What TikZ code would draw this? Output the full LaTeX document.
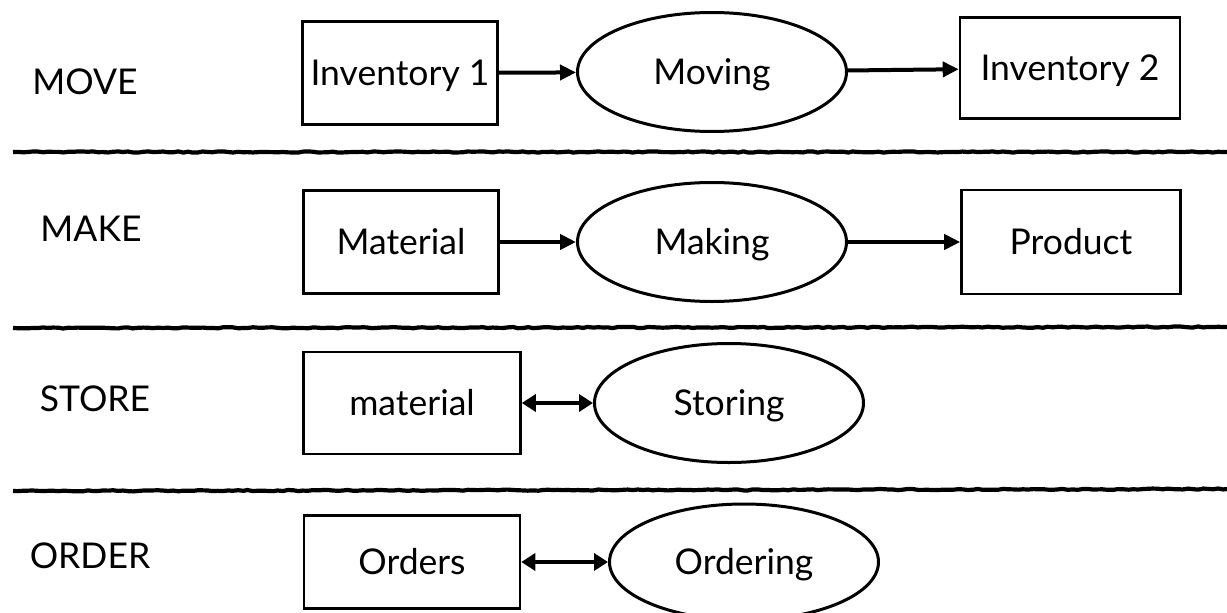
\documentclass[tikz,border=0pt]{standalone}
\usepackage{fontspec}
\setmainfont{Lato}
\usetikzlibrary{arrows.meta,shapes.geometric,decorations.pathmorphing}
\begin{document}
\begin{tikzpicture}[x=1pt,y=-1pt,
  every node/.style={font=\fontsize{35.5}{40}\selectfont, text height=25.5pt, text depth=0pt, inner sep=0pt},
  rowlabel/.style={},
  stockbox/.style={draw, line width=2.6pt, rectangle},
  activity/.style={draw, line width=3pt, ellipse, minimum width=269pt, minimum height=119pt},
  flow/.style={line width=4pt, -{Triangle[length=16pt,width=15pt]}},
  exchange/.style={line width=4pt, {Triangle[length=14pt,width=17pt]}-{Triangle[length=14pt,width=17pt]}},
  divider/.style={line width=4.2pt, decorate, decoration={random steps, segment length=5pt, amplitude=0.6pt}}]
\pgfmathsetseed{7}
\useasboundingbox (0,0) rectangle (1227,613);

% row labels
\node[rowlabel] (lmove)  at (85,82)  {MOVE};
\node[rowlabel] (lmake)  at (91,229) {MAKE};
\node[rowlabel] (lstore) at (95,399) {STORE};
\node[rowlabel] (lorder) at (90,556) {ORDER};

% MOVE
\node[stockbox, minimum width=195pt, minimum height=103pt] (inv1) at (400,73) {Inventory 1};
\node[activity] (moving) at (712,72) {Moving};
\node[stockbox, minimum width=220pt, minimum height=101pt] (inv2) at (1070,68) {Inventory 2};
\draw[flow] (inv1) -- (moving);
\draw[flow] (moving) -- (inv2);

% MAKE
\node[stockbox, minimum width=195pt, minimum height=103pt] (mat) at (401,242) {Material};
\node[activity] (making) at (712,242) {Making};
\node[stockbox, minimum width=219pt, minimum height=104pt] (prod) at (1071,242) {Product};
\draw[flow] (mat) -- (making);
\draw[flow] (making) -- (prod);

% STORE
\node[stockbox, minimum width=217pt, minimum height=102pt] (smat) at (412,403) {material};
\node[activity] (storing) at (729,403) {Storing};
\draw[exchange] (smat) -- (storing);

% ORDER
\node[stockbox, minimum width=216pt, minimum height=93pt] (orders) at (412,562) {Orders};
\node[activity, minimum height=116pt] (ordering) at (744,562) {Ordering};
\draw[exchange] (orders) -- (ordering);

% dividers between the rows
\coordinate (d1l) at (13,152);  \coordinate (d1r) at (1227,152);
\coordinate (d2l) at (13,328);  \coordinate (d2r) at (1227,327);
\coordinate (d3l) at (13,491);  \coordinate (d3r) at (1227,489);
\draw[divider] (d1l) -- (d1r);
\draw[divider] (d2l) -- (d2r);
\draw[divider] (d3l) -- (d3r);
\end{tikzpicture}
\end{document}
